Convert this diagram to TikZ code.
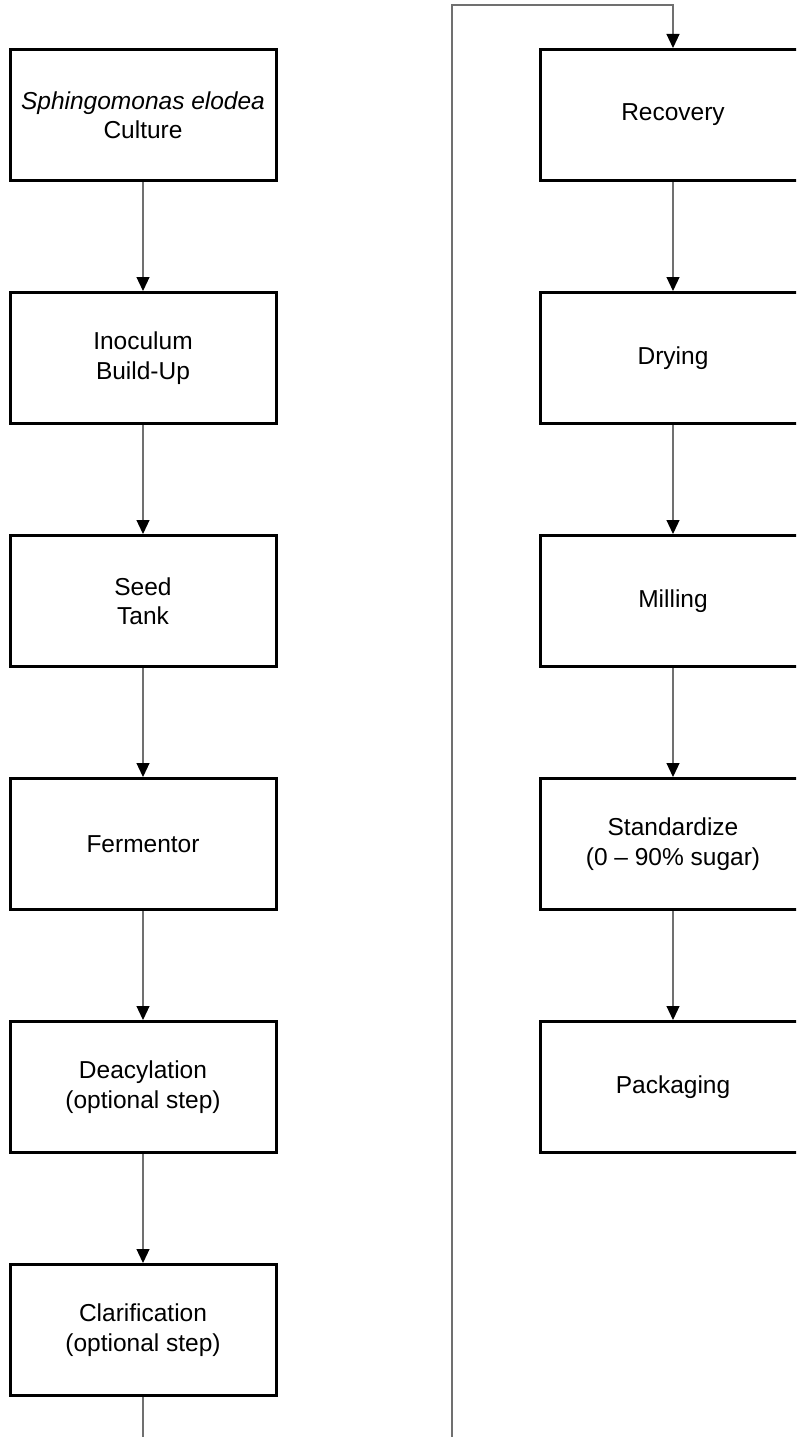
\documentclass[tikz,border=0pt]{standalone}
\usepackage{fontspec}
\setmainfont{Liberation Sans}
\usetikzlibrary{positioning, arrows.meta}

\definecolor{connline}{HTML}{707070}

\begin{document}
\begin{tikzpicture}[
    x=1pt, y=-1pt,
    stepbox/.style={rectangle, draw=black, line width=3pt, fill=white,
                    minimum width=266pt, minimum height=131pt,
                    inner sep=2pt, align=center,
                    font=\fontsize{24.5}{29.5}\selectfont},
    conn/.style={-{Triangle[width=13pt, length=14pt, black]}, line width=1.2pt, connline},
    node distance=109pt,
]

\useasboundingbox (0,0) rectangle (796,1437);
\clip (0,0) rectangle (796,1437);

% --- Left column ---
\node[stepbox] (culture) at (143, 115) {\textit{Sphingomonas elodea}\\Culture};
\node[stepbox, below=of culture] (inoc)  {Inoculum\\Build-Up};
\node[stepbox, below=of inoc]    (seed)  {Seed\\Tank};
\node[stepbox, below=of seed]    (ferm)  {Fermentor};
\node[stepbox, below=of ferm]    (deac)  {Deacylation\\(optional step)};
\node[stepbox, below=of deac]    (clar)  {Clarification\\(optional step)};

% --- Right column ---
\node[stepbox] (recov) at (673, 115) {Recovery};
\node[stepbox, below=of recov] (dry)   {Drying};
\node[stepbox, below=of dry]   (mill)  {Milling};
\node[stepbox, below=of mill]  (stand) {Standardize\\(0 – 90\% sugar)};
\node[stepbox, below=of stand] (pack)  {Packaging};

% --- Connections ---
\draw[conn] (culture) -- (inoc);
\draw[conn] (inoc) -- (seed);
\draw[conn] (seed) -- (ferm);
\draw[conn] (ferm) -- (deac);
\draw[conn] (deac) -- (clar);

\draw[conn] (recov) -- (dry);
\draw[conn] (dry) -- (mill);
\draw[conn] (mill) -- (stand);
\draw[conn] (stand) -- (pack);

% --- Loop from left column to right column ---
\coordinate (loopbot) at (452, 1460);
\coordinate (looptop) at (452, 5);
\draw[conn] (clar.south) |- (loopbot) -- (looptop) -| (recov.north);

\end{tikzpicture}
\end{document}
